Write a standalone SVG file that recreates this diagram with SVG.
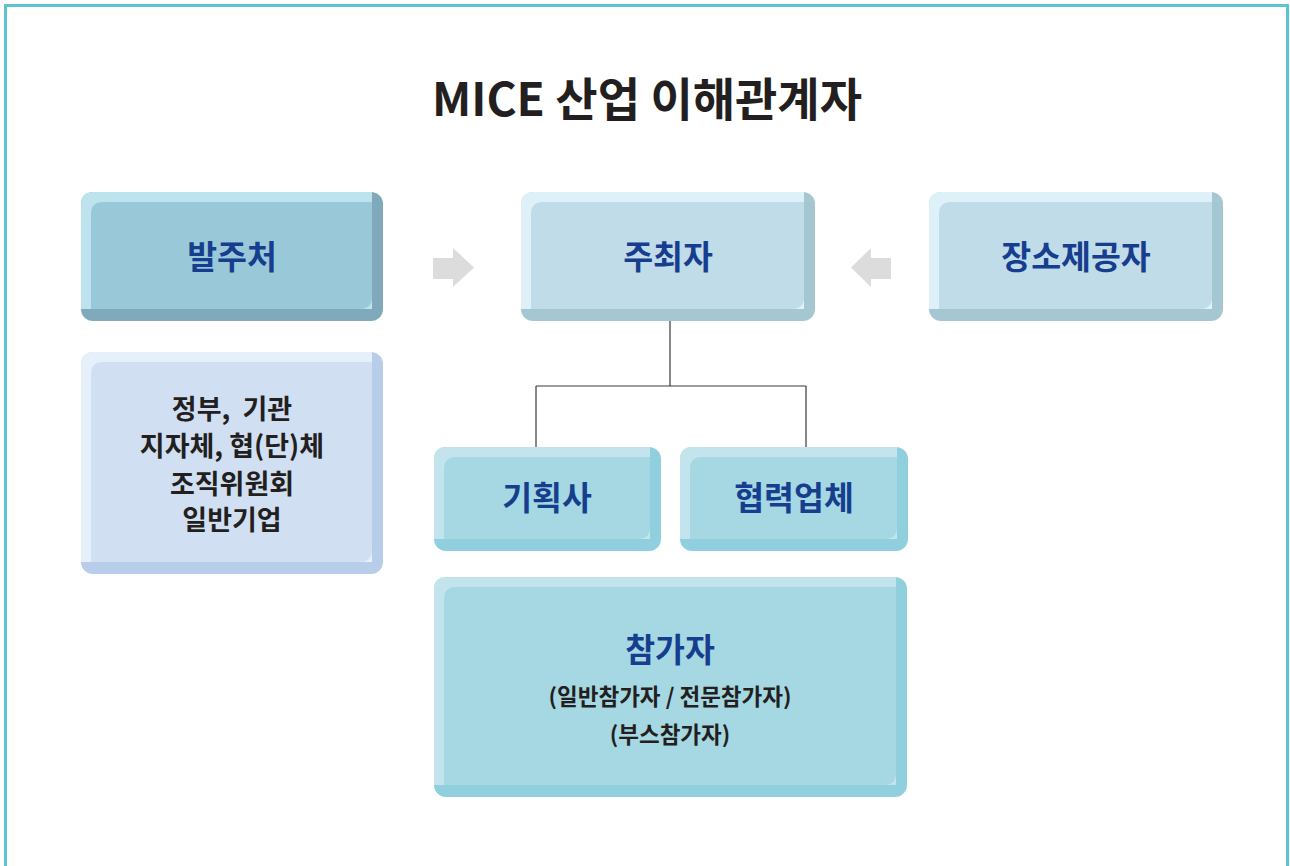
<svg xmlns="http://www.w3.org/2000/svg" width="1290" height="866" viewBox="0 0 1290 866">
<style>
text{font-family:"Noto Sans CJK KR","Noto Sans",sans-serif;font-weight:700;text-anchor:middle}
.title{font-size:46px;fill:#231f20;font-weight:600}
.lbl{font-size:32.5px;fill:#173e8e}
.sub{font-size:27px;fill:#231f20}
.sub2{font-size:22.5px;fill:#231f20}
.conn{stroke:#3a3a3a;stroke-width:1.2;fill:none}
.arr{fill:#dcdcdc}
</style>
<rect x="5.5" y="5.5" width="1282" height="880" fill="#fff" stroke="#5bc3d2" stroke-width="3"/>
<text class="title" x="647" y="116">MICE 산업 이해관계자</text>
<g id="connectors">
<path class="conn" d="M670,321 V386 M536,386 H806 M536,386 V447 M806,386 V447"/>
<polygon class="arr" points="433,258 453,258 453,248 474,267.5 453,287 453,279 433,279"/>
<polygon class="arr" points="891,258 871,258 871,248 851,267.5 871,287 871,279 891,279"/>
</g>
<g id="node-balju">
<rect x="81" y="192" width="302" height="129" rx="12" fill="#80a9bb"/>
<path d="M93,192 H372 V309 H81 V204 Q81,192 93,192Z" fill="#bde3ee"/>
<path d="M103,202 H372 V297 Q372,309 360,309 H91 V214 Q91,202 103,202Z" fill="#99c9d8"/>
<text class="lbl" x="232" y="269">발주처</text>
</g>
<g id="node-host">
<rect x="521" y="192" width="294" height="129" rx="12" fill="#a5c7d1"/>
<path d="M533,192 H804 V309 H521 V204 Q521,192 533,192Z" fill="#dff1f8"/>
<path d="M543,202 H804 V297 Q804,309 792,309 H531 V214 Q531,202 543,202Z" fill="#c0dce8"/>
<text class="lbl" x="668" y="269">주최자</text>
</g>
<g id="node-venue">
<rect x="929" y="192" width="294" height="129" rx="12" fill="#a5c7d1"/>
<path d="M941,192 H1212 V309 H929 V204 Q929,192 941,192Z" fill="#dff1f8"/>
<path d="M951,202 H1212 V297 Q1212,309 1200,309 H939 V214 Q939,202 951,202Z" fill="#c0dce8"/>
<text class="lbl" x="1076" y="269">장소제공자</text>
</g>
<g id="node-gov">
<rect x="81" y="352" width="302" height="222" rx="12" fill="#b8cde9"/>
<path d="M93,352 H372 V562 H81 V364 Q81,352 93,352Z" fill="#e6f0fa"/>
<path d="M103,362 H372 V550 Q372,562 360,562 H91 V374 Q91,362 103,362Z" fill="#d0e0f2"/>
<text class="sub" x="232" y="419" xml:space="preserve">정부,  기관</text>
<text class="sub" x="232" y="456">지자체, 협(단)체</text>
<text class="sub" x="232" y="494">조직위원회</text>
<text class="sub" x="232" y="530">일반기업</text>
</g>
<g id="node-planner">
<rect x="434" y="447" width="227" height="104" rx="12" fill="#90d0de"/>
<path d="M446,447 H650 V539 H434 V459 Q434,447 446,447Z" fill="#c3e4ec"/>
<path d="M456,457 H650 V527 Q650,539 638,539 H444 V469 Q444,457 456,457Z" fill="#a5d8e2"/>
<text class="lbl" x="547" y="510">기획사</text>
</g>
<g id="node-partner">
<rect x="680" y="447" width="228" height="104" rx="12" fill="#90d0de"/>
<path d="M692,447 H897 V539 H680 V459 Q680,447 692,447Z" fill="#c3e4ec"/>
<path d="M702,457 H897 V527 Q897,539 885,539 H690 V469 Q690,457 702,457Z" fill="#a5d8e2"/>
<text class="lbl" x="794" y="510">협력업체</text>
</g>
<g id="node-participant">
<rect x="434" y="577" width="473" height="220" rx="12" fill="#90d0de"/>
<path d="M446,577 H896 V785 H434 V589 Q434,577 446,577Z" fill="#c3e4ec"/>
<path d="M456,587 H896 V773 Q896,785 884,785 H444 V599 Q444,587 456,587Z" fill="#a5d8e2"/>
<text class="lbl" x="670" y="662">참가자</text>
<text class="sub2" x="670" y="705">(일반참가자 / 전문참가자)</text>
<text class="sub2" x="670" y="743">(부스참가자)</text>
</g>
</svg>
